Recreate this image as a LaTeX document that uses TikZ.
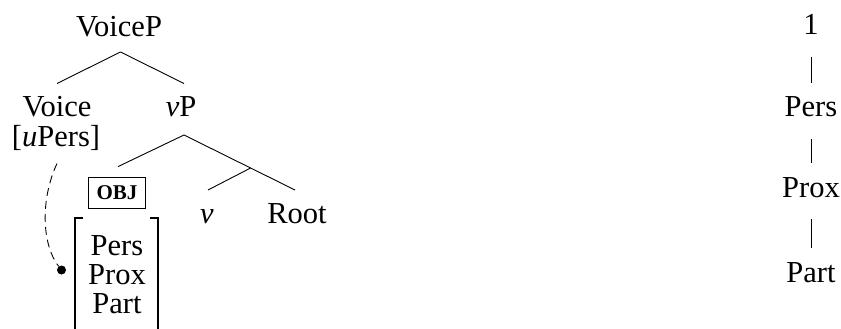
\documentclass[tikz,border=0pt]{standalone}
\usepackage{fontspec}
\setmainfont{Liberation Serif}
\usetikzlibrary{calc}
\tikzset{
  lab/.style={anchor=base, inner sep=0pt, font=\fontsize{30.5pt}{36pt}\selectfont},
  objbox/.style={draw, line width=0.8pt, inner xsep=8pt, inner ysep=0pt,
    minimum height=31pt, font=\fontsize{21pt}{25pt}\selectfont\bfseries},
  branch/.style={line width=0.9pt},
  brack/.style={line width=2pt},
  agree/.style={line width=0.9pt, dash pattern=on 8pt off 5pt},
  dotnode/.style={circle, fill=black, inner sep=0pt, minimum size=9pt}
}
\begin{document}
\begin{tikzpicture}[x=1pt,y=-1pt]
\useasboundingbox (0,0) rectangle (841,329);
% tree
\node[lab] (voicep) at (119,36.5) {VoiceP};
\node[lab] (voice) at (57,116.5) {Voice};
\node[lab] (upers) at (56,146.5) {[\textit{u}Pers]};
\node[lab] (vp) at (181,116.5) {\textit{v}P};
\node[objbox] (obj) at (117,192.5) {OBJ};
\node[lab] (v) at (207,223) {\textit{v}};
\node[lab] (root) at (297,223) {Root};
\node[lab] (pers) at (117,255) {Pers};
\node[lab] (prox) at (117,284.5) {Prox};
\node[lab] (part) at (117,313) {Part};
\node[dotnode] (dot) at (61.5,270) {};
\coordinate (vptop) at ($(voicep.base)+(1.5,15.5)$);
\coordinate (vpbot) at ($(vp.base)+(3,18.5)$);
\coordinate (rootTop) at ($(root.base)+(-2,-33)$);
\draw[branch] (vptop) -- ($(voice.base)+(0,-33)$);
\draw[branch] (vptop) -- ($(vp.base)+(3,-33)$);
\draw[branch] (vpbot) -- ($(obj.north)+(1,-10)$);
\draw[branch] (vpbot) -- (rootTop);
\draw[branch] ($(vpbot)!0.6!(rootTop)$) -- ($(v.base)+(1,-33)$);
% brackets
\draw[brack] ($(pers.base)+(-34,-37)$) -- ($(pers.base)+(-42,-37)$) -- ($(pers.base)+(-42,90)$);
\draw[brack] ($(pers.base)+(33,-37)$) -- ($(pers.base)+(41,-37)$) -- ($(pers.base)+(41,90)$);
% agreement
\draw[agree] ($(upers.base)+(1,17)$) .. controls (40,200) and (42,245) .. (dot);
% hierarchy
\node[lab] (one) at (811,35) {1};
\node[lab] (pers2) at (811,117) {Pers};
\node[lab] (prox2) at (811,197) {Prox};
\node[lab] (part2) at (811,282) {Part};
\draw[branch] ($(one.base)+(0,22)$) -- ($(pers2.base)+(0,-34)$);
\draw[branch] ($(pers2.base)+(0,22)$) -- ($(prox2.base)+(0,-34)$);
\draw[branch] ($(prox2.base)+(0,22)$) -- ($(part2.base)+(0,-34)$);
\end{tikzpicture}
\end{document}
